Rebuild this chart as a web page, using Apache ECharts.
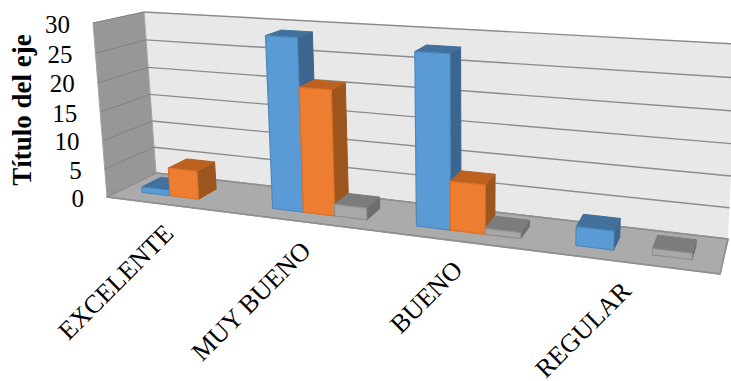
<!DOCTYPE html>
<html>
<head>
<meta charset="utf-8">
<style>html,body{margin:0;padding:0;background:#fff}#chart{width:731px;height:381px}</style>
<script src="https://cdn.jsdelivr.net/npm/echarts@6/dist/echarts.min.js"></script>
</head>
<body>
<div id="chart"></div>
<script>
// Ratings and counts for the clustered 3D column chart
const categories = ['EXCELENTE', 'MUY BUENO', 'BUENO', 'REGULAR'];
const seriesA = [1, 29, 28, 3];
const seriesB = [5, 21, 8, 0];
const seriesC = [0, 2, 1, 1];
const valueTicks = [0, 5, 10, 15, 20, 25, 30];
const axisTitle = 'Título del eje';

// Corners of the plot box in the view: front and back planes
const box = {
  fbl: [107, 197], fbr: [720, 274], ftl: [93, 23], ftr: [731, 64],
  bbl: [156, 173], bbr: [728, 239], btl: [144, 12], btr: [737, 44]
};
const perspectiveX = 0.815, perspectiveY = 0.955;
const depthFront = 0.3, depthBack = 0.7;
const serif = '"Liberation Serif", "Times New Roman", serif';

const mix = (p, q, t) => [p[0] + (q[0] - p[0]) * t, p[1] + (q[1] - p[1]) * t];

// u: along the categories, s: up the value axis, d: into the depth; all in 0..1
function project(u, s, d) {
  const f = perspectiveX * u / (1 + (perspectiveX - 1) * u);
  const t = perspectiveY * s / (1 + (perspectiveY - 1) * s);
  const front = mix(mix(box.fbl, box.fbr, f), mix(box.ftl, box.ftr, f), t);
  const back = mix(mix(box.bbl, box.bbr, f), mix(box.btl, box.btr, f), t);
  return mix(front, back, d);
}

// Axis-space pixel to normalised plot fractions
function fractions(params, api, idx, val) {
  const c = params.coordSys, p = api.coord([idx, val]);
  return { u: (p[0] - c.x) / c.width, s: (c.y + c.height - p[1]) / c.height };
}

function poly(points, fill, stroke, lineWidth) {
  return { type: 'polygon', silent: true, shape: { points },
    style: { fill, stroke: stroke || fill, lineWidth: lineWidth === undefined ? 1 : lineWidth, lineJoin: 'round' } };
}
function line(a, b, stroke, lineWidth) {
  return { type: 'line', silent: true, shape: { x1: a[0], y1: a[1], x2: b[0], y2: b[1] },
    style: { stroke, lineWidth } };
}

function renderWalls(params, api) {
  const kids = [
    poly([project(0, 1, 1), project(1, 1, 1), project(1, 0, 1), project(0, 0, 1)], '#e8e8e8', '#e8e8e8', 0),
    poly([project(0, 1, 0), project(0, 1, 1), project(0, 0, 1), project(0, 0, 0)], '#979797', '#a2a2a2', 1),
    poly([project(0, 0, 0), project(0, 0, 1), project(1, 0, 1), project(1, 0, 0)], '#ababab', '#909090', 1.5)
  ];
  valueTicks.forEach(function (v) {
    const s = fractions(params, api, 0, v).s;
    if (v > 0) {
      kids.push(line(project(0, s, 1), project(1, s, 1), '#8c8c8c', 1.4));
      kids.push(line(project(0, s, 0), project(0, s, 1), '#828282', 1));
    }
  });
  kids.push(poly([project(0, 0, 0), project(0, 0, 1), project(1, 0, 1), project(1, 0, 0)], 'none', '#909090', 1.5));
  return { type: 'group', children: kids };
}

// One 3D column: side and top faces first, then the front face over them
function barRenderer(slot, colors) {
  return function (params, api) {
    const idx = api.value(0), val = api.value(1);
    if (!val) return null;
    const c = params.coordSys, band = api.size([1, 0])[0];
    const top = fractions(params, api, idx, val);
    const u0 = top.u + (-0.5 + 1 / 6 + slot * 2 / 9) * band / c.width;
    const u1 = u0 + (2 / 9) * band / c.width;
    const s = top.s;
    const P = (u, h, d) => project(u, h, d);
    return { type: 'group', children: [
      poly([P(u1, 0, depthFront), P(u1, 0, depthBack), P(u1, s, depthBack), P(u1, s, depthFront)], colors.side, colors.side, 1),
      poly([P(u0, s, depthFront), P(u0, s, depthBack), P(u1, s, depthBack), P(u1, s, depthFront)], colors.top, colors.top, 1),
      poly([P(u0, 0, depthFront), P(u1, 0, depthFront), P(u1, s, depthFront), P(u0, s, depthFront)], colors.front, colors.edge, 1.2)
    ] };
  };
}

function renderValueLabel(params, api) {
  const v = api.value(1), s = fractions(params, api, 0, v).s;
  const p = project(0, s, 0);
  return { type: 'text', silent: true, x: p[0] - 23, y: p[1] + 1,
    style: { text: String(v), fontFamily: serif, fontSize: 25, fill: '#000', align: 'right', verticalAlign: 'middle' } };
}

function renderCategoryLabel(params, api) {
  const i = api.value(0), p = project(fractions(params, api, i, 0).u, 0, 0);
  return { type: 'text', silent: true, x: p[0] - 2, y: p[1] + 24, rotation: Math.PI / 4,
    style: { text: categories[i], fontFamily: serif, fontSize: 26, fill: '#000', align: 'right', verticalAlign: 'middle' } };
}

const asPairs = values => values.map((v, i) => [i, v]);
const custom = (name, renderItem, data, z) => ({
  type: 'custom', name, renderItem, data, z, clip: false, silent: true,
  encode: { x: 0, y: 1 }, animation: false
});

const chart = echarts.init(document.getElementById('chart'), null, { renderer: 'svg' });
chart.setOption({
  animation: false,
  backgroundColor: '#ffffff',
  grid: { left: 107, right: 11, top: 23, bottom: 184 },
  xAxis: { type: 'category', data: categories, show: false },
  yAxis: {
    type: 'value', min: 0, max: 30, interval: 5,
    name: axisTitle, nameLocation: 'middle', nameRotate: 90, nameGap: 84,
    nameTextStyle: { fontFamily: serif, fontWeight: 'bold', fontSize: 27, color: '#000' },
    axisLine: { show: false }, axisTick: { show: false }, axisLabel: { show: false }, splitLine: { show: false }
  },
  series: [
    custom('walls', renderWalls, [[0, 0]], 1),
    custom('Serie A', barRenderer(0, { front: '#5b9bd5', edge: '#4c88bf', top: '#41719c', side: '#3c6690' }), asPairs(seriesA), 2),
    custom('Serie B', barRenderer(1, { front: '#ed7d31', edge: '#d9702a', top: '#bd6120', side: '#9c561d' }), asPairs(seriesB), 3),
    custom('Serie C', barRenderer(2, { front: '#a8a8a8', edge: '#8f8f8f', top: '#7c7c7c', side: '#6e6e6e' }), asPairs(seriesC), 4),
    custom('value labels', renderValueLabel, valueTicks.map(v => [0, v]), 5),
    custom('category labels', renderCategoryLabel, categories.map((c, i) => [i, 0]), 5)
  ]
});
</script>
</body>
</html>
